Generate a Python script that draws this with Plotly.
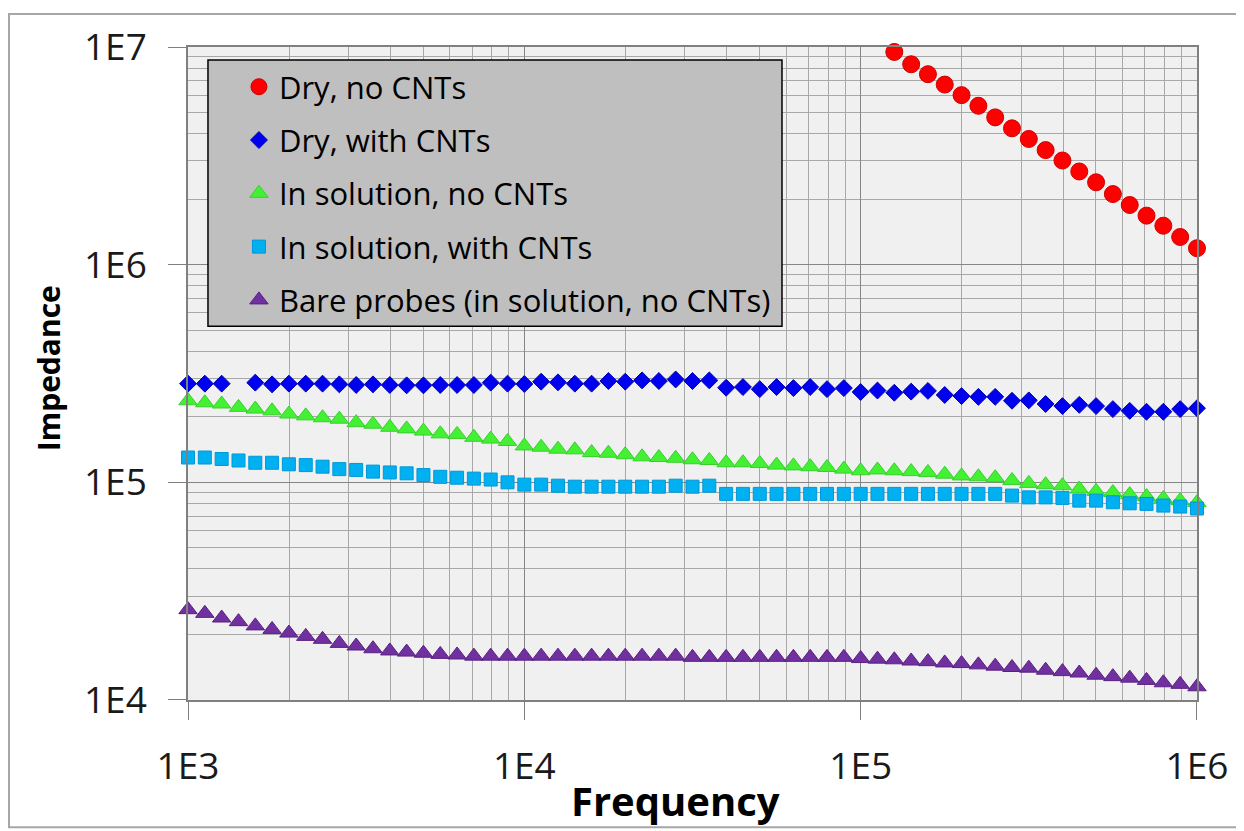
import plotly.graph_objects as go

# Frequencies (Hz), 20 points per decade from 1E3 to 1E6
freq = [1000, 1122, 1259, 1413, 1585, 1778, 1995, 2239, 2512, 2818,
        3162, 3548, 3981, 4467, 5012, 5623, 6310, 7079, 7943, 8913,
        10000, 11220, 12590, 14130, 15850, 17780, 19950, 22390, 25120, 28180,
        31620, 35480, 39810, 44670, 50120, 56230, 63100, 70790, 79430, 89130,
        100000, 112200, 125900, 141300, 158500, 177800, 199500, 223900, 251200, 281800,
        316200, 354800, 398100, 446700, 501200, 562300, 631000, 707900, 794300, 891300,
        1000000]

series_names = ["Dry, no CNTs", "Dry, with CNTs", "In solution, no CNTs",
                "In solution, with CNTs", "Bare probes (in solution, no CNTs)"]

# Dry, no CNTs: only measured from ~1.26E5 Hz upward
dry_no_cnt_freq = freq[42:]
dry_no_cnt = [9.49e6, 8.33e6, 7.50e6, 6.72e6, 6.01e6, 5.37e6, 4.75e6, 4.23e6, 3.78e6, 3.36e6,
              3.01e6, 2.68e6, 2.39e6, 2.11e6, 1.88e6, 1.68e6, 1.51e6, 1.34e6, 1.19e6]

dry_cnt = [2.84e5, 2.84e5, 2.84e5, None, 2.87e5, 2.82e5, 2.84e5, 2.84e5, 2.84e5, 2.82e5,
           2.80e5, 2.82e5, 2.80e5, 2.79e5, 2.79e5, 2.80e5, 2.80e5, 2.80e5, 2.87e5, 2.84e5,
           2.83e5, 2.90e5, 2.88e5, 2.84e5, 2.84e5, 2.92e5, 2.90e5, 2.94e5, 2.92e5, 2.97e5,
           2.92e5, 2.94e5, 2.72e5, 2.74e5, 2.68e5, 2.74e5, 2.71e5, 2.74e5, 2.68e5, 2.71e5,
           2.60e5, 2.64e5, 2.58e5, 2.61e5, 2.63e5, 2.52e5, 2.49e5, 2.47e5, 2.47e5, 2.37e5,
           2.38e5, 2.29e5, 2.24e5, 2.27e5, 2.24e5, 2.17e5, 2.13e5, 2.11e5, 2.11e5, 2.17e5,
           2.19e5]

sol_no_cnt = [2.37e5, 2.32e5, 2.29e5, 2.21e5, 2.17e5, 2.13e5, 2.06e5, 2.02e5, 1.98e5, 1.95e5,
              1.88e5, 1.85e5, 1.79e5, 1.76e5, 1.72e5, 1.67e5, 1.66e5, 1.61e5, 1.58e5, 1.54e5,
              1.47e5, 1.45e5, 1.42e5, 1.41e5, 1.37e5, 1.36e5, 1.34e5, 1.31e5, 1.30e5, 1.29e5,
              1.27e5, 1.26e5, 1.23e5, 1.23e5, 1.22e5, 1.20e5, 1.19e5, 1.18e5, 1.17e5, 1.15e5,
              1.13e5, 1.14e5, 1.13e5, 1.12e5, 1.11e5, 1.09e5, 1.07e5, 1.06e5, 1.05e5, 1.02e5,
              9.89e4, 9.75e4, 9.65e4, 9.32e4, 9.09e4, 8.97e4, 8.78e4, 8.60e4, 8.42e4, 8.24e4,
              8.07e4]

sol_cnt = [1.30e5, 1.30e5, 1.28e5, 1.26e5, 1.23e5, 1.23e5, 1.21e5, 1.20e5, 1.18e5, 1.15e5,
           1.14e5, 1.12e5, 1.11e5, 1.10e5, 1.08e5, 1.06e5, 1.05e5, 1.04e5, 1.03e5, 1.00e5,
           9.76e4, 9.76e4, 9.65e4, 9.55e4, 9.55e4, 9.55e4, 9.55e4, 9.55e4, 9.55e4, 9.65e4,
           9.55e4, 9.65e4, 8.85e4, 8.85e4, 8.85e4, 8.85e4, 8.85e4, 8.85e4, 8.85e4, 8.85e4,
           8.85e4, 8.85e4, 8.85e4, 8.85e4, 8.85e4, 8.85e4, 8.85e4, 8.85e4, 8.85e4, 8.69e4,
           8.53e4, 8.53e4, 8.48e4, 8.24e4, 8.24e4, 8.10e4, 8.01e4, 7.96e4, 7.82e4, 7.74e4,
           7.58e4]

bare = [2.60e4, 2.50e4, 2.38e4, 2.29e4, 2.19e4, 2.11e4, 2.03e4, 1.96e4, 1.90e4, 1.82e4,
        1.77e4, 1.72e4, 1.68e4, 1.66e4, 1.64e4, 1.62e4, 1.61e4, 1.59e4, 1.59e4, 1.59e4,
        1.59e4, 1.59e4, 1.59e4, 1.59e4, 1.59e4, 1.59e4, 1.59e4, 1.59e4, 1.59e4, 1.59e4,
        1.57e4, 1.57e4, 1.57e4, 1.57e4, 1.57e4, 1.57e4, 1.57e4, 1.57e4, 1.57e4, 1.57e4,
        1.55e4, 1.54e4, 1.53e4, 1.51e4, 1.50e4, 1.48e4, 1.47e4, 1.45e4, 1.43e4, 1.41e4,
        1.40e4, 1.37e4, 1.35e4, 1.33e4, 1.30e4, 1.28e4, 1.26e4, 1.23e4, 1.20e4, 1.18e4,
        1.15e4]

x_tickvals = [1e3, 1e4, 1e5, 1e6]
x_ticktext = ["1E3", "1E4", "1E5", "1E6"]
y_tickvals = [1e4, 1e5, 1e6, 1e7]
y_ticktext = ["1E4", "1E5", "1E6", "1E7"]

FONT = "Open Sans, Calibri, sans-serif"

styles = [
    dict(symbol="circle", size=17, color="#FF0000", line=dict(color="#D00000", width=1)),
    dict(symbol="diamond", size=13, color="#0000F0", line=dict(color="#0000B0", width=1)),
    dict(symbol="triangle-up", size=16, color="#44F034", line=dict(color="#36D02A", width=1)),
    dict(symbol="square", size=13, color="#00B0F0", line=dict(color="#0098D8", width=1)),
    dict(symbol="triangle-up", size=16, color="#7030A0", line=dict(color="#5A2080", width=1)),
]

xs = [dry_no_cnt_freq, freq, freq, freq, freq]
ys = [dry_no_cnt, dry_cnt, sol_no_cnt, sol_cnt, bare]

fig = go.Figure()
for i, (name, x, y, st) in enumerate(zip(series_names, xs, ys, styles)):
    fig.add_trace(go.Scatter(
        x=x, y=y, name=name, mode="markers", marker=st,
        legendgroup=f"g{i}", cliponaxis=False,
    ))

fig.update_layout(
    width=1236, height=823,
    margin=dict(l=180, r=47, t=37, b=131),
    paper_bgcolor="white",
    plot_bgcolor="#F0F0F0",
    font=dict(family=FONT, color="black"),
    showlegend=True,
    legend=dict(
        x=0.0505, y=0.980, xanchor="left", yanchor="top",
        bgcolor="rgba(0,0,0,0)", borderwidth=0,
        font=dict(family=FONT, size=31, color="black"),
        tracegroupgap=10, itemsizing="trace",
    ),
    xaxis=dict(
        type="log", range=[2.99995, 6.00005],
        tickvals=x_tickvals, ticktext=x_ticktext,
        tickfont=dict(family=FONT, size=37, color="#1a1a1a"),
        ticks="outside", ticklen=18, tickcolor="#808080", tickwidth=1,
        ticklabelstandoff=15,
        showline=True, linecolor="#808080", linewidth=1.5, mirror=True,
        showgrid=True, gridcolor="#858585", gridwidth=1,
        minor=dict(dtick="D1", showgrid=True, gridcolor="#A8A8A8", gridwidth=1, ticks=""),
        zeroline=False,
    ),
    yaxis=dict(
        type="log", range=[3.99995, 7.00005],
        tickvals=y_tickvals, ticktext=y_ticktext,
        tickfont=dict(family=FONT, size=37, color="#1a1a1a"),
        ticks="outside", ticklen=18, tickcolor="#808080", tickwidth=1,
        ticklabelstandoff=14,
        showline=True, linecolor="#808080", linewidth=1.5, mirror=True,
        showgrid=True, gridcolor="#858585", gridwidth=1,
        minor=dict(dtick="D1", showgrid=True, gridcolor="#A8A8A8", gridwidth=1, ticks=""),
        zeroline=False,
    ),
    annotations=[
        dict(text="Impedance", xref="paper", yref="paper", x=-0.1388, y=0.508,
             xanchor="center", yanchor="middle", textangle=-90, showarrow=False,
             font=dict(family=FONT, size=30, color="black", weight="bold")),
        dict(text="Frequency", xref="paper", yref="paper", x=0.4827, y=-0.154,
             xanchor="center", yanchor="middle", showarrow=False,
             font=dict(family=FONT, size=40, color="black", weight="bold")),
    ],
    shapes=[
        # outer chart-area border
        dict(type="rect", xref="paper", yref="paper",
             x0=-0.1774, x1=1.06, y0=-0.195, y1=1.0504,
             line=dict(color="#A6A6A6", width=2), fillcolor="rgba(0,0,0,0)", layer="below"),
        # legend box
        dict(type="rect", xref="paper", yref="paper",
             x0=0.0198, x1=0.5887, y0=0.5725, y1=0.9802,
             line=dict(color="black", width=1.5), fillcolor="#BFBFBF", layer="above"),
    ],
)

fig.write_html("out.html")
